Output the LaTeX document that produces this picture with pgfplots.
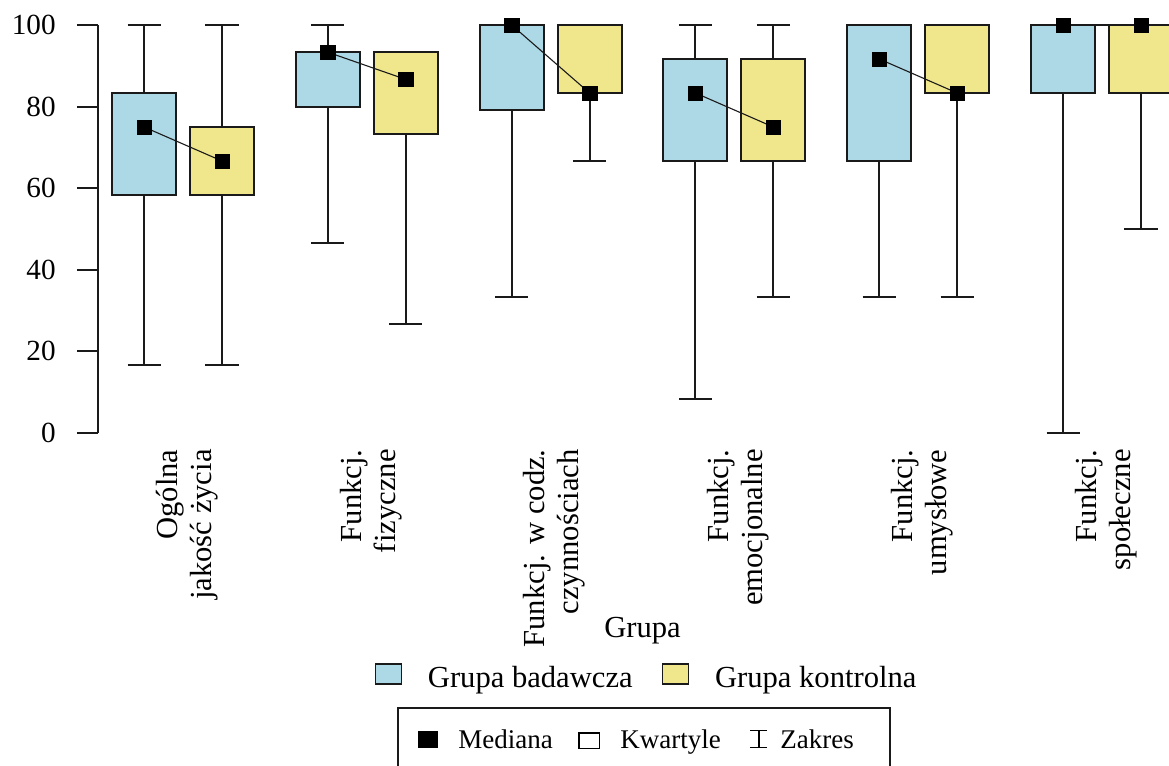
\documentclass[border=0pt]{standalone}
\usepackage{fontspec}
\setmainfont{Liberation Serif}
\usepackage{pgfplots}
\pgfplotsset{compat=1.18}
\usepgfplotslibrary{statistics}

\definecolor{lblue}{HTML}{ADD8E6}
\definecolor{khaki}{HTML}{F0E68C}
\definecolor{ink}{HTML}{1A1A1A}

\newcommand{\lblfont}{\fontsize{15.3}{17}\selectfont}
\newcommand{\tickfont}{\fontsize{14.6}{17}\selectfont}
\newcommand{\legfont}{\fontsize{13.5}{16}\selectfont}
% symbols for the key below the chart
\newcommand{\hollowbox}{{\setlength{\fboxsep}{0pt}\setlength{\fboxrule}{0.7pt}\fbox{\rule{0pt}{7.1pt}\hspace*{9.6pt}}}}
\newcommand{\whisk}{\rlap{\rule{8.5pt}{0.7pt}}\rlap{\rule[8.3pt]{8.5pt}{0.7pt}}\hspace*{3.9pt}\rule{0.7pt}{9pt}\hspace*{3.9pt}}

\begin{document}
\begin{tikzpicture}
\begin{axis}[
  scale only axis,
  width=535.5pt, height=204pt,
  xmin=-0.4625, xmax=5.3645,
  ymin=0, ymax=100,
  clip=false,
  axis y line*=left,
  axis x line*=bottom,
  x axis line style={draw=none},
  y axis line style={line width=1pt, ink},
  tick align=outside,
  major tick length=10.5pt,
  ytick={0,20,...,100},
  ytick style={line width=1pt, ink},
  yticklabel style={font=\tickfont, inner sep=0pt, anchor=east, xshift=-10.5pt},
  /pgf/number format/assume math mode=true,
  xtick={0,...,5},
  xtick style={draw=none},
  xticklabels={{Ogólna\\jakość życia},{Funkcj.\\fizyczne},{Funkcj. w codz.\\czynnościach},{Funkcj.\\emocjonalne},{Funkcj.\\umysłowe},{Funkcj.\\społeczne}},
  xticklabel style={rotate=90, anchor=east, align=right, font=\lblfont, inner sep=0pt, xshift=2.5pt, yshift=-2pt},
  xlabel={Grupa},
  xlabel style={at={(rel axis cs:0.5084,-0.502)}, anchor=base, font=\lblfont, inner sep=0pt},
  boxplot/draw direction=y,
  boxplot/draw/median/.code={},
  boxplot/box extend=0.348,
  boxplot/whisker extend=0.18,
  boxstyle/.style={draw=ink, line width=1pt, solid},
  medstyle/.style={ink, line width=0.55pt, mark=square*, mark size=3.6pt, mark options={solid, fill=black, draw=black, line width=0.2pt}},
  legend columns=2,
  legend style={at={(rel axis cs:0.5112,-0.598)}, anchor=center, draw=none, fill=none,
    font=\lblfont, nodes={inner sep=0pt},
    /tikz/every odd column/.append style={column sep=13pt},
    /tikz/every even column/.append style={column sep=14.5pt}},
  legend image code/.code={\draw[#1, draw=ink, line width=0.7pt] (0pt,-2.5pt) rectangle (13pt,7.5pt);},
]
\addlegendimage{fill=lblue}
\addlegendentry{Grupa badawcza}
\addlegendimage{fill=khaki}
\addlegendentry{Grupa kontrolna}

% Grupa badawcza
\addplot[boxstyle, fill=lblue, forget plot, boxplot prepared={draw position=-0.212, lower whisker=16.67, lower quartile=58.33, median=75, upper quartile=83.33, upper whisker=100}] coordinates {};
\addplot[boxstyle, fill=lblue, forget plot, boxplot prepared={draw position=0.788, lower whisker=46.67, lower quartile=80, median=93.33, upper quartile=93.33, upper whisker=100}] coordinates {};
\addplot[boxstyle, fill=lblue, forget plot, boxplot prepared={draw position=1.788, lower whisker=33.33, lower quartile=79.17, median=100, upper quartile=100, upper whisker=100}] coordinates {};
\addplot[boxstyle, fill=lblue, forget plot, boxplot prepared={draw position=2.788, lower whisker=8.33, lower quartile=66.67, median=83.33, upper quartile=91.67, upper whisker=100}] coordinates {};
\addplot[boxstyle, fill=lblue, forget plot, boxplot prepared={draw position=3.788, lower whisker=33.33, lower quartile=66.67, median=91.67, upper quartile=100, upper whisker=100}] coordinates {};
\addplot[boxstyle, fill=lblue, forget plot, boxplot prepared={draw position=4.788, lower whisker=0, lower quartile=83.33, median=100, upper quartile=100, upper whisker=100}] coordinates {};

% Grupa kontrolna
\addplot[boxstyle, fill=khaki, forget plot, boxplot prepared={draw position=0.212, lower whisker=16.67, lower quartile=58.33, median=66.67, upper quartile=75, upper whisker=100}] coordinates {};
\addplot[boxstyle, fill=khaki, forget plot, boxplot prepared={draw position=1.212, lower whisker=26.67, lower quartile=73.33, median=86.67, upper quartile=93.33, upper whisker=93.33}] coordinates {};
\addplot[boxstyle, fill=khaki, forget plot, boxplot prepared={draw position=2.212, lower whisker=66.67, lower quartile=83.33, median=83.33, upper quartile=100, upper whisker=100}] coordinates {};
\addplot[boxstyle, fill=khaki, forget plot, boxplot prepared={draw position=3.212, lower whisker=33.33, lower quartile=66.67, median=75, upper quartile=91.67, upper whisker=100}] coordinates {};
\addplot[boxstyle, fill=khaki, forget plot, boxplot prepared={draw position=4.212, lower whisker=33.33, lower quartile=83.33, median=83.33, upper quartile=100, upper whisker=100}] coordinates {};
\addplot[boxstyle, fill=khaki, forget plot, boxplot prepared={draw position=5.212, lower whisker=50, lower quartile=83.33, median=100, upper quartile=100, upper whisker=100}] coordinates {};

% medians, joined within each domain
\addplot[medstyle, forget plot] coordinates {(-0.212,75) (0.212,66.67)};
\addplot[medstyle, forget plot] coordinates {(0.788,93.33) (1.212,86.67)};
\addplot[medstyle, forget plot] coordinates {(1.788,100) (2.212,83.33)};
\addplot[medstyle, forget plot] coordinates {(2.788,83.33) (3.212,75)};
\addplot[medstyle, forget plot] coordinates {(3.788,91.67) (4.212,83.33)};
\addplot[medstyle, forget plot] coordinates {(4.788,100) (5.212,100)};

% key for the statistics shown
\node[draw=ink, line width=0.9pt, anchor=north west, minimum width=246pt, minimum height=40pt, inner sep=0pt] (key) at (rel axis cs:0.2792,-0.6716) {};
\node[anchor=base west, inner sep=0pt, font=\legfont] at ([xshift=10.5pt, yshift=-20.5pt]key.north west)
  {\rule{10pt}{8.5pt}\hspace*{10pt}Mediana\hspace*{12.75pt}\hollowbox\hspace*{10pt}Kwartyle\hspace*{14.75pt}\whisk\hspace*{6.5pt}Zakres};

\coordinate (bbA) at (rel axis cs:-0.0915,1.0613);
\coordinate (bbB) at (rel axis cs:1.0,-0.8137);
\end{axis}
\pgfresetboundingbox
\useasboundingbox (bbA) rectangle (bbB);
\end{tikzpicture}
\end{document}
